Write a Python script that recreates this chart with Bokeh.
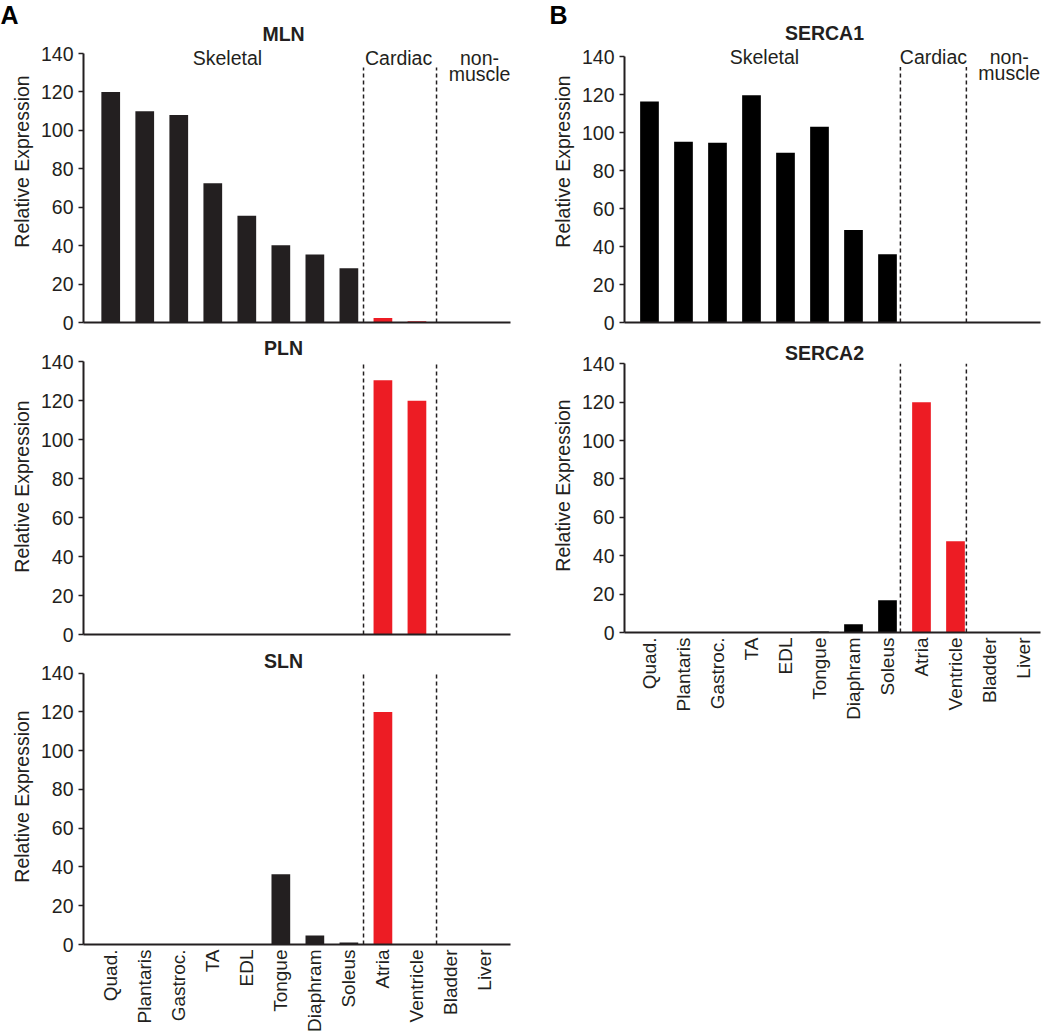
import numpy as np
from bokeh.plotting import figure
from bokeh.models import Range1d, FixedTicker, Label
from bokeh.layouts import row, column
from bokeh.embed import file_html
from bokeh.resources import INLINE

# ---------------- data ----------------
categories = ["Quad.", "Plantaris", "Gastroc.", "TA", "EDL", "Tongue",
              "Diaphram", "Soleus", "Atria", "Ventricle", "Bladder", "Liver"]
tissue_group = ["Skeletal"] * 8 + ["Cardiac"] * 2 + ["non-muscle"] * 2
group_labels = ["Skeletal", "Cardiac", "non-\nmuscle"]

mln = [120.0, 110.0, 108.0, 72.5, 55.5, 40.2, 35.4, 28.3, 2.4, 0.7, 0.0, 0.0]
pln = [0.0, 0.0, 0.0, 0.0, 0.0, 0.0, 0.0, 0.0, 130.5, 120.0, 0.0, 0.0]
sln = [0.0, 0.0, 0.0, 0.0, 0.0, 36.3, 4.6, 1.0, 120.0, 0.0, 0.0, 0.0]
serca1 = [116.5, 95.2, 94.7, 119.8, 89.4, 103.1, 48.7, 36.0, 0.0, 0.0, 0.0, 0.0]
serca2 = [0.0, 0.0, 0.0, 0.0, 0.0, 0.5, 4.3, 16.8, 120.0, 47.5, 0.0, 0.0]

y_ticks = [0, 20, 40, 60, 80, 100, 120, 140]
y_label = "Relative Expression"

# ---------------- style ----------------
FONT = "Liberation Sans"
INK = "#231f20"
RED = "#ed1c24"
FS = "19.5px"

LEFT = dict(x0=-0.8, x1=11.75, bl=83, fw=427, br=20, div=(7.43, 9.576),
            tx=5.08, gx=(3.43, 8.46, 10.84), ink=INK,
            letter=("A", -3.24), letter_side="right")
RIGHT = dict(x0=-0.735, x1=11.5, bl=92, fw=416, br=10, div=(7.38, 9.32),
             tx=5.147, gx=(3.38, 8.35, 10.58), ink="#000000",
             letter=("B", -2.94), letter_side="left")


def panel(values, title, col, ytop, fh, bb, title_y, dash_top,
          xlabels=False, groups=None, letter=False):
    p = figure(frame_width=col["fw"], frame_height=fh,
               min_border_left=col["bl"], min_border_right=col["br"],
               min_border_top=0, min_border_bottom=bb,
               x_range=Range1d(col["x0"], col["x1"]), y_range=Range1d(0, ytop),
               output_backend="svg", toolbar_location=None, title=None)
    p.outline_line_color = None
    p.grid.visible = False
    p.background_fill_color = "white"
    p.border_fill_color = "white"

    xs = np.arange(len(categories))
    colors = [RED if g == "Cardiac" else col["ink"] for g in tissue_group]
    p.vbar(x=xs, top=values, width=0.55, bottom=0, fill_color=colors,
           line_color=None)

    # dashed dividers between tissue groups
    for dx in col["div"]:
        p.segment(x0=[dx], y0=[0], x1=[dx], y1=[dash_top], line_color=INK,
                  line_width=1.5, line_dash="4 3")

    # y axis
    ya = p.yaxis[0]
    ya.bounds = (0, 140)
    ya.ticker = FixedTicker(ticks=y_ticks)
    ya.minor_tick_line_color = None
    ya.major_tick_in = 0
    ya.major_tick_out = 5
    ya.major_tick_line_width = 1.5
    ya.major_tick_line_color = INK
    ya.axis_line_width = 2
    ya.axis_line_color = INK
    ya.major_label_text_font = FONT
    ya.major_label_text_font_size = FS
    ya.major_label_text_color = INK
    ya.major_label_standoff = 5
    ya.axis_label = y_label
    ya.axis_label_text_font = FONT
    ya.axis_label_text_font_size = FS
    ya.axis_label_text_font_style = "normal"
    ya.axis_label_text_color = INK
    ya.axis_label_standoff = 5

    # x axis
    xa = p.xaxis[0]
    xa.minor_tick_line_color = None
    xa.major_tick_line_color = None
    xa.major_tick_in = 0
    xa.major_tick_out = 0
    xa.axis_line_width = 2
    xa.axis_line_color = INK
    if xlabels:
        xa.ticker = FixedTicker(ticks=list(range(len(categories))))
        xa.major_label_overrides = {i: c for i, c in enumerate(categories)}
        xa.major_label_text_font = FONT
        xa.major_label_text_color = INK
        xa.major_label_text_font_size = "19px"
        xa.major_label_orientation = np.pi / 2
        xa.major_label_standoff = 5
    else:
        xa.ticker = FixedTicker(ticks=[])

    p.add_layout(Label(x=col["tx"], y=title_y, text=title, text_align="center",
                       text_baseline="middle", text_font=FONT,
                       text_font_size="19.5px", text_font_style="bold",
                       text_color=INK))
    if groups is not None:
        for gx, g in zip(col["gx"], group_labels):
            for k, ln in enumerate(g.split("\n")):
                p.add_layout(Label(x=gx, y=groups[k], text=ln, text_align="center",
                                   text_baseline="middle", text_font=FONT,
                                   text_font_size=FS, text_color=INK))
    if letter:
        p.add_layout(Label(x=col["letter"][1], y=ytop, text=col["letter"][0],
                           text_align="left", text_baseline="top", text_font=FONT,
                           text_font_size="25px", text_font_style="bold",
                           text_color="#000000"), col["letter_side"])
    return p


p_mln = panel(mln, "MLN", LEFT, 167.6, 322, 16, 150.4, 132.7,
              groups=(137.9, 129.6), letter=True)
p_pln = panel(pln, "PLN", LEFT, 152.0, 296, 14, 147.0, 140)
p_sln = panel(sln, "SLN", LEFT, 152.7, 296, 89, 146.5, 140, xlabels=True)
p_s1 = panel(serca1, "SERCA1", RIGHT, 169.7, 322, 16, 152.5, 134.7,
             groups=(139.8, 131.4), letter=True)
p_s2 = panel(serca2, "SERCA2", RIGHT, 153.2, 294, 90, 145.9, 140, xlabels=True)

layout = row(column(p_mln, p_pln, p_sln, spacing=0),
             column(p_s1, p_s2, spacing=0), spacing=0)

open("out.html", "w").write(file_html(layout, INLINE))
